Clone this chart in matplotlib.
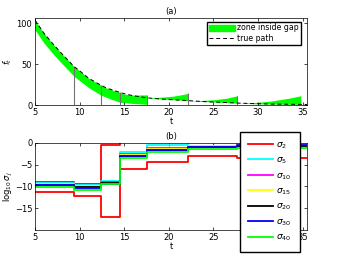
import numpy as np
import matplotlib
matplotlib.use("Agg")
import matplotlib.pyplot as plt
from matplotlib.patches import Patch
from matplotlib.lines import Line2D

# (a) true path and zone inside gap
t_path = [5, 6, 7, 8, 9.4, 10, 11, 12.35, 13, 14.5, 15, 16, 17.5, 19, 20, 22.15, 24, 25, 27.7, 30, 32, 35.5]
f_path = [104, 88, 75, 63, 47, 42, 33, 24.6, 21, 15.6, 14, 11.5, 9, 7.5, 6.8, 5.5, 4.3, 3.8, 2.5, 1.7, 1.2, 0.8]

# band below the path (first gaps)
t_band = [5, 6, 7, 8, 9.4, 10, 11, 12.35, 13, 14.5, 15, 16, 17.5]
band_low = [92, 76, 63, 51, 35, 30, 21.5, 12.5, 9.5, 3.5, 3, 2, 1]
band_high = [104, 88, 75, 63, 47, 42, 33, 24.6, 21, 15.6, 13.5, 12.3, 12.5]

# wedges above the path (later gaps)
wedge_t = [[17.5, 18.5, 19.5, 20.5, 21.5, 22.15],
           [22.15, 23.5, 25, 26.5, 27.7],
           [27.7, 29.5, 31.5, 33.5, 34.8]]
wedge_low = [[9, 8, 7.3, 6.6, 6, 5.5],
             [5.5, 4.6, 3.8, 3.1, 2.5],
             [2.5, 1.7, 1.2, 1.0, 0.9]]
wedge_high = [[9, 9.3, 10, 11, 12.8, 14.4],
              [5.5, 5.6, 6.5, 8.5, 11.5],
              [2.5, 3, 5, 8.5, 11.5]]

gap_t = [9.4, 12.35, 14.5, 17.5, 22.15, 27.7]
gap_top = [47, 24.6, 15.6, 12.5, 14.4, 11.5]

# (b) log10 sigma_j per interval
edges = [5, 9.4, 12.35, 14.5, 17.5, 22.15, 27.7, 35.5]
sig1 = [-8.9, -9.35, -0.5, 1, 1, 1, 1]
sig2 = [-11.2, -12.1, -16.9, -6.05, -4.4, -3.1, -3.4]
sig5 = [-9.2, -9.6, -8.8, -2.1, -0.5, 0.5, 0.5]
sig10 = [-9.4, -9.9, -9.0, -2.6, -1.2, -0.65, -0.2]
sig15 = [-9.5, -10.0, -9.1, -2.7, -1.3, -0.75, -0.3]
sig20 = [-9.6, -10.2, -9.3, -3.0, -1.7, -1.0, -0.75]
sig30 = [-9.7, -10.3, -9.35, -2.9, -1.6, -0.9, -0.55]
sig40 = [-10.1, -10.7, -9.5, -3.5, -2.2, -1.45, -1.1]

plt.rcParams['font.size'] = 6
plt.rcParams['font.family'] = 'DejaVu Sans'

fig = plt.figure(figsize=(3.37, 2.57), dpi=100)
ax1 = fig.add_axes([0.104, 0.591, 0.807, 0.34])
ax2 = fig.add_axes([0.104, 0.105, 0.807, 0.339])

green = (0, 1, 0)

# top panel
ax1.fill_between(t_band, band_low, band_high, color=green, lw=0)
for wt, wl, wh in zip(wedge_t, wedge_low, wedge_high):
    ax1.fill_between(wt, wl, wh, color=green, lw=0)
ax1.vlines(gap_t, 0, gap_top, color='0.45', lw=0.8)
ax1.plot(t_path, f_path, color='k', ls='--', lw=0.7, dashes=(4, 3))
ax1.set_xlim(5, 35.5)
ax1.set_ylim(0, 107)
ax1.set_xticks([5, 10, 15, 20, 25, 30, 35])
ax1.set_yticks([0, 50, 100])
ax1.set_xlabel('t', labelpad=0)
ax1.set_ylabel('$f_t$', labelpad=2)
ax1.set_title('(a)', fontsize=6, pad=3)
handles = [Patch(color=green, label='zone inside gap'),
           Line2D([], [], color='k', ls='--', lw=0.7, dashes=(4, 3), label='true path')]
ax1.legend(handles=handles, loc='upper right', bbox_to_anchor=(301 / 337, 1 - 21.5 / 257),
           bbox_transform=fig.transFigure, fancybox=False, edgecolor='k', framealpha=1,
           fontsize=5.6, handlelength=3.3, handleheight=0.9, borderpad=0.25,
           labelspacing=0.2, handletextpad=0.3, borderaxespad=0)

# bottom panel
series = [(sig1, 'r', None), (sig2, 'r', r'$\sigma_{2}$'), (sig5, (0, 1, 1), r'$\sigma_{5}$'),
          (sig10, (1, 0, 1), r'$\sigma_{10}$'), (sig15, (1, 1, 0), r'$\sigma_{15}$'),
          (sig20, 'k', r'$\sigma_{20}$'), (sig30, 'b', r'$\sigma_{30}$'),
          (sig40, green, r'$\sigma_{40}$')]
for vals, col, lab in series:
    ax2.step(edges, vals + [vals[-1]], where='post', color=col, lw=1.3, label=lab)
ax2.set_xlim(5, 35.5)
ax2.set_ylim(-20, 0)
ax2.set_xticks([5, 10, 15, 20, 25, 30, 35])
ax2.set_yticks([-15, -10, -5, 0])
ax2.set_xlabel('t', labelpad=0)
ax2.set_ylabel(r'$\log_{10}\sigma_j$', labelpad=0)
ax2.set_title('(b)', fontsize=6, pad=3)
ax2.legend(loc='upper left', bbox_to_anchor=(240 / 337, 1 - 132 / 257),
           bbox_transform=fig.transFigure, fancybox=False, edgecolor='k',
           framealpha=1, fontsize=6.5, handlelength=2.7, borderpad=0.9,
           labelspacing=0.55, handletextpad=0.4, borderaxespad=0)

for ax in (ax1, ax2):
    ax.tick_params(direction='in', top=True, right=True, length=2, width=0.5, pad=2)
    for s in ax.spines.values():
        s.set_linewidth(0.5)

fig.savefig('out.png', dpi=100)
